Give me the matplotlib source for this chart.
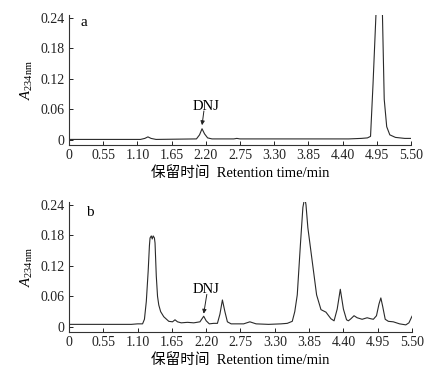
import matplotlib
matplotlib.use("Agg")
import matplotlib.pyplot as plt

plt.rcParams['font.family'] = ['Liberation Serif', 'Noto Sans CJK SC']
plt.rcParams['mathtext.fontset'] = 'custom'
plt.rcParams['mathtext.rm'] = 'Liberation Serif'
plt.rcParams['mathtext.it'] = 'Liberation Serif:italic'

# Panel a chromatogram (retention time, absorbance)
time_a = [0.00, 1.15, 1.22, 1.27, 1.32, 1.40, 2.05, 2.10, 2.14, 2.18, 2.23, 2.30,
          2.65, 2.70, 2.75, 4.50, 4.70, 4.80, 4.85, 4.89, 4.94, 4.96, 5.02, 5.04,
          5.07, 5.11, 5.16, 5.25, 5.40, 5.50]
abs_a = [0.001, 0.001, 0.003, 0.006, 0.003, 0.001, 0.002, 0.010, 0.022, 0.012, 0.004, 0.002,
         0.002, 0.003, 0.002, 0.002, 0.003, 0.004, 0.007, 0.110, 0.255, 0.300, 0.300, 0.255,
         0.080, 0.026, 0.010, 0.005, 0.003, 0.003]

# Panel b chromatogram
time_b = [0.00, 1.00, 1.10, 1.18, 1.21, 1.24, 1.27, 1.29, 1.30, 1.32, 1.335, 1.35, 1.37,
          1.38, 1.40, 1.42, 1.44, 1.47, 1.52, 1.60, 1.66, 1.70, 1.74, 1.80, 1.90, 2.00,
          2.10, 2.16, 2.20, 2.25, 2.32, 2.38, 2.42, 2.46, 2.50, 2.54, 2.60, 2.80, 2.90,
          3.00, 3.20, 3.40, 3.50, 3.58, 3.62, 3.66, 3.71, 3.75, 3.78, 3.80, 3.83, 3.90,
          3.97, 4.04, 4.12, 4.20, 4.25, 4.30, 4.35, 4.40, 4.45, 4.48, 4.52, 4.57, 4.62,
          4.70, 4.78, 4.84, 4.88, 4.93, 4.97, 5.00, 5.03, 5.07, 5.12, 5.20, 5.30, 5.40,
          5.45, 5.50]
abs_b = [0.005, 0.005, 0.006, 0.006, 0.015, 0.050, 0.110, 0.160, 0.175, 0.179, 0.173, 0.179, 0.175,
         0.165, 0.100, 0.060, 0.043, 0.030, 0.020, 0.011, 0.010, 0.014, 0.010, 0.008, 0.009, 0.008,
         0.010, 0.021, 0.012, 0.006, 0.007, 0.007, 0.025, 0.053, 0.030, 0.010, 0.006, 0.006, 0.010,
         0.006, 0.005, 0.006, 0.007, 0.011, 0.030, 0.063, 0.161, 0.235, 0.255, 0.240, 0.195, 0.129,
         0.063, 0.034, 0.029, 0.016, 0.012, 0.035, 0.074, 0.035, 0.014, 0.012, 0.016, 0.022, 0.018,
         0.015, 0.018, 0.016, 0.015, 0.022, 0.045, 0.057, 0.040, 0.015, 0.011, 0.010, 0.006, 0.004,
         0.008, 0.021]

x_ticks = [0, 0.55, 1.10, 1.65, 2.20, 2.75, 3.30, 3.85, 4.40, 4.95, 5.50]
x_labels = ['0', '0.55', '1.10', '1.65', '2.20', '2.75', '3.30', '3.85', '4.40', '4.95', '5.50']
y_ticks = [0, 0.06, 0.12, 0.18, 0.24]
y_labels = ['0', '0.06', '0.12', '0.18', '0.24']

fig = plt.figure(figsize=(4.31, 3.75), dpi=100)
ax_a = fig.add_axes([0.160, 0.6133, 0.7935, 0.3456])
ax_b = fig.add_axes([0.160, 0.1147, 0.7960, 0.3456])

panels = [
    (ax_a, time_a, abs_a, 'a', (0.18, 0.232), (2.20, 0.066), (2.14, 0.029), (2.17, 0.057)),
    (ax_b, time_b, abs_b, 'b', (0.27, 0.226), (2.20, 0.074), (2.16, 0.026), (2.21, 0.064)),
]

for ax, t, a, lab, labpos, txtpos, tip, tail in panels:
    ax.plot(t, a, color='#2a2a2a', lw=0.8)
    ax.set_xlim(0, 5.5)
    ax.set_ylim(-0.01, 0.245)
    ax.spines['top'].set_visible(False)
    ax.spines['right'].set_visible(False)
    for s in ('left', 'bottom'):
        ax.spines[s].set_color('#333333')
        ax.spines[s].set_linewidth(0.8)
    ax.set_xticks(x_ticks)
    ax.set_xticklabels(x_labels)
    ax.set_yticks(y_ticks)
    ax.set_yticklabels(y_labels)
    ax.tick_params(direction='in', length=3, width=0.7, labelsize=10, colors='#222222', pad=3)
    ax.set_xlabel('保留时间  Retention time/min', fontsize=10.5, labelpad=3)
    ax.set_ylabel(r'$A_{234\mathrm{nm}}$', fontsize=10.5, labelpad=4)
    ax.text(labpos[0], labpos[1], lab, fontsize=11, ha='left', va='center')
    ax.text(txtpos[0], txtpos[1], 'DNJ', fontsize=10.5, ha='center', va='center')
    ax.annotate('', xy=tip, xytext=tail,
                arrowprops=dict(arrowstyle='-|>', color='#222222', lw=0.7,
                                mutation_scale=6, shrinkA=0, shrinkB=0))

fig.savefig('out.png', dpi=100)
